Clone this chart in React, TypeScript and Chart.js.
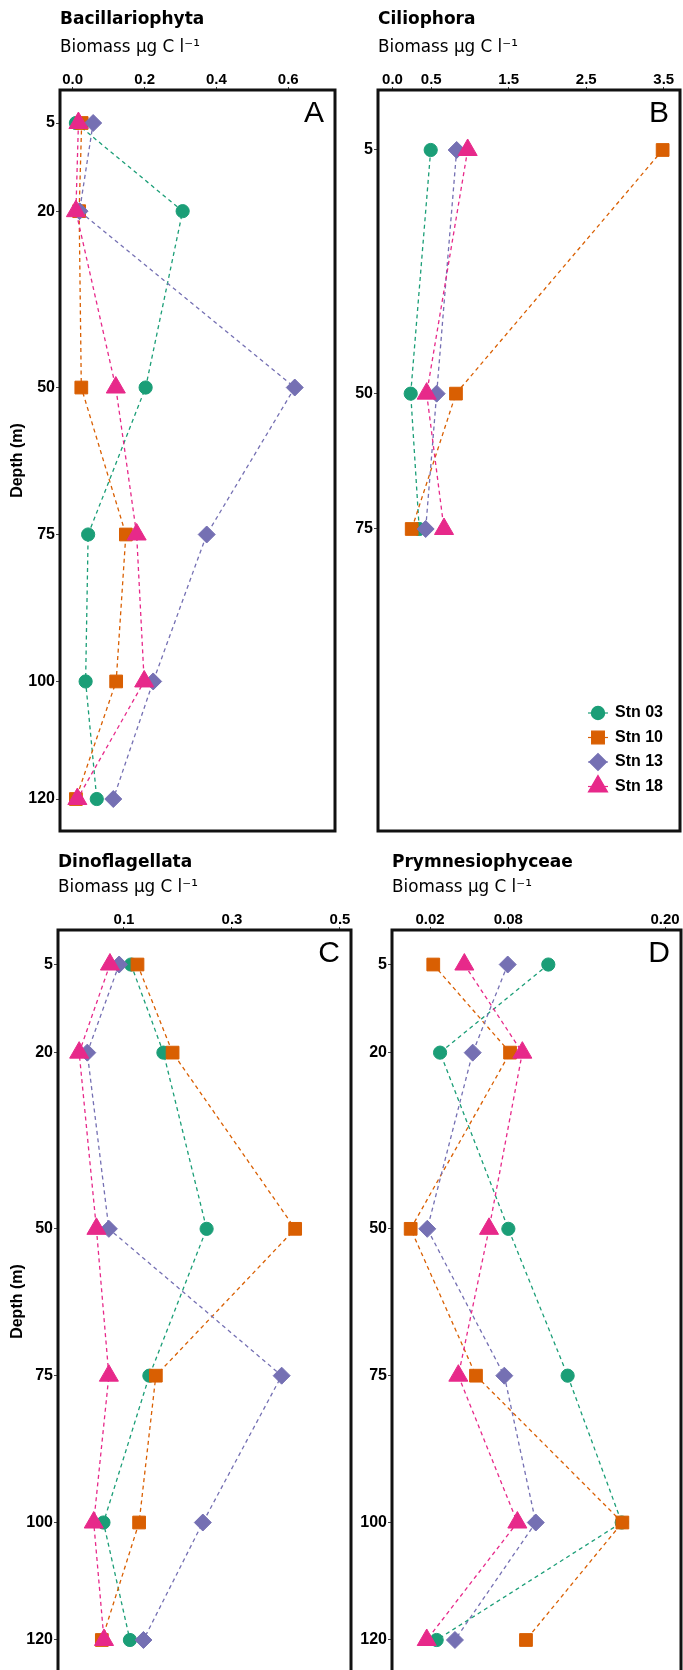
import React, { useEffect, useRef } from 'react';
import { Chart, registerables } from 'chart.js';
import { drawPoint } from 'chart.js/helpers';

Chart.register(...registerables);

// ---------------- data ----------------
const depths = [5, 20, 50, 75, 100, 120];
const ciliDepths = [5, 50, 75];
const depthTicks = [5, 20, 50, 75, 100, 120];
const ciliDepthTicks = [5, 50, 75];

const stations = ['Stn 03', 'Stn 10', 'Stn 13', 'Stn 18'];

// Bacillariophyta (A)
const baciStn03 = [0.009, 0.306, 0.203, 0.043, 0.036, 0.067];
const baciStn10 = [0.025, 0.018, 0.024, 0.148, 0.121, 0.009];
const baciStn13 = [0.057, 0.019, 0.618, 0.373, 0.224, 0.113];
const baciStn18 = [0.016, 0.009, 0.120, 0.178, 0.199, 0.013];
const baciTicks = [0.0, 0.2, 0.4, 0.6];
const baciTickLabels = ['0.0', '0.2', '0.4', '0.6'];

// Ciliophora (B)
const ciliStn03 = [0.493, 0.235, 0.345];
const ciliStn10 = [3.486, 0.819, 0.248];
const ciliStn13 = [0.828, 0.570, 0.428];
const ciliStn18 = [0.970, 0.441, 0.665];
const ciliTicks = [0.0, 0.5, 1.5, 2.5, 3.5];
const ciliTickLabels = ['0.0', '0.5', '1.5', '2.5', '3.5'];

// Dinoflagellata (C)
const dinoStn03 = [0.113, 0.173, 0.253, 0.147, 0.062, 0.111];
const dinoStn10 = [0.125, 0.190, 0.417, 0.159, 0.128, 0.059];
const dinoStn13 = [0.091, 0.032, 0.072, 0.392, 0.246, 0.136];
const dinoStn18 = [0.074, 0.017, 0.049, 0.072, 0.044, 0.063];
const dinoTicks = [0.1, 0.3, 0.5];
const dinoTickLabels = ['0.1', '0.3', '0.5'];

// Prymnesiophyceae (D)
const prymStn03 = [0.1106, 0.0277, 0.080, 0.1254, 0.1668, 0.0251];
const prymStn10 = [0.0225, 0.0813, 0.0052, 0.0552, 0.1673, 0.0935];
const prymStn13 = [0.0795, 0.0527, 0.0179, 0.0769, 0.101, 0.0391];
const prymStn18 = [0.0463, 0.0907, 0.0652, 0.0417, 0.0869, 0.0175];
const prymTicks = [0.02, 0.08, 0.2];
const prymTickLabels = ['0.02', '0.08', '0.20'];

// ---------------- styles ----------------
const SANS = "'Liberation Sans', Arial, Helvetica, sans-serif";
const TITLE_FAMILY = "'DejaVu Sans', 'Liberation Sans', sans-serif";
const COLORS = ['#1B9E77', '#D95F02', '#7570B3', '#E7298A'];
const SHAPES = ['circle', 'rect', 'rectRot', 'triangle'];
const RADII = [6.6, 9, 8.5, 11];
const TITLE_SIZE = 17;
const SUB_SIZE = 16.8;
const TOP_OFFSET = 90; // from canvas top to chart area top
const SUBTITLE = 'Biomass \u00B5g C l\u207B\u00B9';

Chart.defaults.font.family = SANS;
Chart.defaults.color = '#000';

type Panel = {
  title: string;
  letter: string;
  depths: number[];
  series: number[][];
  xTicks: number[];
  xLabels: string[];
  xMin: number;
  xMax: number;
  yMin: number;
  yMax: number;
  yTicks: number[];
  depthTitle: boolean;
  legend: boolean;
  area: { left: number; top: number; right: number; bottom: number };
  yAxisWidth: number;
  padRight: number;
  titlePad: number;
  subPad: number;
};

const panels: Panel[] = [
  {
    title: 'Bacillariophyta', letter: 'A', depths,
    series: [baciStn03, baciStn10, baciStn13, baciStn18],
    xTicks: baciTicks, xLabels: baciTickLabels, xMin: -0.0353, xMax: 0.73,
    yMin: -0.614, yMax: 125.44, yTicks: depthTicks, depthTitle: true, legend: false,
    area: { left: 60, top: 90, right: 335, bottom: 831 }, yAxisWidth: 60, padRight: 6,
    titlePad: 8.9, subPad: 8.1,
  },
  {
    title: 'Ciliophora', letter: 'B', depths: ciliDepths,
    series: [ciliStn03, ciliStn10, ciliStn13, ciliStn18],
    xTicks: ciliTicks, xLabels: ciliTickLabels, xMin: -0.187, xMax: 3.71,
    yMin: -6.08, yMax: 130.78, yTicks: ciliDepthTicks, depthTitle: false, legend: true,
    area: { left: 378, top: 90, right: 680, bottom: 831 }, yAxisWidth: 60, padRight: 3,
    titlePad: 8.9, subPad: 8.1,
  },
  {
    title: 'Dinoflagellata', letter: 'C', depths,
    series: [dinoStn03, dinoStn10, dinoStn13, dinoStn18],
    xTicks: dinoTicks, xLabels: dinoTickLabels, xMin: -0.0222, xMax: 0.5204,
    yMin: -0.878, yMax: 125.62, yTicks: depthTicks, depthTitle: true, legend: false,
    area: { left: 58, top: 930, right: 351, bottom: 1673 }, yAxisWidth: 58, padRight: 6,
    titlePad: 12.7, subPad: 4.3,
  },
  {
    title: 'Prymnesiophyceae', letter: 'D', depths,
    series: [prymStn03, prymStn10, prymStn13, prymStn18],
    xTicks: prymTicks, xLabels: prymTickLabels, xMin: -0.0091, xMax: 0.2122,
    yMin: -0.878, yMax: 125.62, yTicks: depthTicks, depthTitle: false, legend: false,
    area: { left: 392, top: 930, right: 681, bottom: 1673 }, yAxisWidth: 60, padRight: 2,
    titlePad: 12.7, subPad: 4.3,
  },
];

const framePlugin = {
  id: 'frame',
  afterDraw(chart: any, _args: any, opts: any) {
    const { ctx, chartArea: a } = chart;
    ctx.save();
    ctx.lineWidth = 3;
    ctx.strokeStyle = '#111';
    ctx.strokeRect(a.left, a.top, a.right - a.left, a.bottom - a.top);
    ctx.fillStyle = '#000';
    ctx.font = `30px ${SANS}`;
    ctx.textAlign = 'right';
    ctx.textBaseline = 'alphabetic';
    ctx.fillText(opts.letter, a.right - 11, a.top + 32);
    if (opts.legend) {
      const mx = a.right - 82;
      const tx = a.right - 65;
      stations.forEach((name, i) => {
        const y = a.bottom - 118 + i * 24.5;
        ctx.strokeStyle = COLORS[i];
        ctx.fillStyle = COLORS[i];
        ctx.lineWidth = 1.2;
        ctx.setLineDash([]);
        ctx.beginPath();
        ctx.moveTo(mx - 10, y);
        ctx.lineTo(mx + 10, y);
        ctx.stroke();
        drawPoint(ctx, { pointStyle: SHAPES[i], radius: RADII[i], borderWidth: 1, rotation: 0 } as any, mx, y);
        ctx.fillStyle = '#000';
        ctx.font = `bold 16px ${SANS}`;
        ctx.textAlign = 'left';
        ctx.textBaseline = 'middle';
        ctx.fillText(name, tx, y);
      });
    }
    ctx.restore();
  },
};

function PanelChart({ cfg }: { cfg: Panel }) {
  const ref = useRef<HTMLCanvasElement | null>(null);
  const canvasLeft = cfg.area.left - cfg.yAxisWidth;
  const canvasTop = cfg.area.top - TOP_OFFSET;
  const width = cfg.area.right + cfg.padRight - canvasLeft;
  const height = cfg.area.bottom + 6 - canvasTop;
  const xAxisHeight =
    TOP_OFFSET - (cfg.titlePad + TITLE_SIZE * 1.2 + cfg.subPad + SUB_SIZE * 1.2);

  useEffect(() => {
    if (!ref.current) return;
    const datasets = stations.map((name, i) => ({
      label: name,
      data: cfg.depths.map((d, j) => ({ x: cfg.series[i][j], y: d })),
      showLine: true,
      borderColor: COLORS[i],
      backgroundColor: COLORS[i],
      borderWidth: 1.3,
      borderDash: [4, 3.5],
      pointStyle: SHAPES[i],
      pointRadius: RADII[i],
      pointHoverRadius: RADII[i],
      pointBackgroundColor: COLORS[i],
      pointBorderColor: COLORS[i],
      pointBorderWidth: 1,
      order: 4 - i,
    }));
    const chart = new Chart(ref.current, {
      type: 'scatter',
      data: { datasets },
      plugins: [framePlugin],
      options: {
        animation: false,
        responsive: false,
        maintainAspectRatio: false,
        events: [],
        layout: {
          autoPadding: false,
          padding: { left: 0, top: 0, right: cfg.padRight, bottom: 6 },
        },
        scales: {
          x: {
            type: 'linear',
            position: 'top',
            min: cfg.xMin,
            max: cfg.xMax,
            afterBuildTicks: (scale: any) => {
              scale.ticks = cfg.xTicks.map((v) => ({ value: v }));
            },
            afterFit: (scale: any) => {
              scale.height = xAxisHeight;
              scale.paddingLeft = 0;
              scale.paddingRight = 0;
              scale.paddingTop = 0;
              scale.paddingBottom = 0;
            },
            ticks: {
              autoSkip: false,
              maxRotation: 0,
              padding: 0,
              color: '#000',
              font: { size: 15, weight: 'bold', lineHeight: 1 },
              callback: (_v: any, idx: number) => cfg.xLabels[idx],
            },
            grid: {
              display: true,
              drawOnChartArea: false,
              drawTicks: true,
              tickLength: 3,
              color: '#444',
              lineWidth: 1,
            },
            border: { display: false },
          },
          y: {
            type: 'linear',
            reverse: true,
            min: cfg.yMin,
            max: cfg.yMax,
            afterBuildTicks: (scale: any) => {
              scale.ticks = cfg.yTicks.map((v) => ({ value: v }));
            },
            afterFit: (scale: any) => {
              scale.width = cfg.yAxisWidth;
              scale.paddingLeft = 0;
              scale.paddingRight = 0;
              scale.paddingTop = 0;
              scale.paddingBottom = 0;
            },
            ticks: {
              autoSkip: false,
              padding: 1,
              color: '#000',
              font: { size: 16, weight: 'bold' },
              callback: (v: any) => String(v),
            },
            grid: {
              display: true,
              drawOnChartArea: false,
              drawTicks: true,
              tickLength: 4,
              color: '#444',
              lineWidth: 1,
            },
            border: { display: false },
            title: {
              display: cfg.depthTitle,
              text: 'Depth (m)',
              color: '#000',
              font: { size: 16, weight: 'bold' },
              padding: { top: 8.4, bottom: 0 },
            },
          },
        },
        plugins: {
          legend: { display: false },
          tooltip: { enabled: false },
          title: {
            display: true,
            text: cfg.title,
            align: 'start',
            fullSize: false,
            color: '#000',
            font: { family: TITLE_FAMILY, size: TITLE_SIZE, weight: 'bold', lineHeight: 1.2 },
            padding: { top: cfg.titlePad, bottom: 0 },
          },
          subtitle: {
            display: true,
            text: SUBTITLE,
            align: 'start',
            fullSize: false,
            color: '#000',
            font: { family: TITLE_FAMILY, size: SUB_SIZE, weight: 'normal', lineHeight: 1.2 },
            padding: { top: cfg.subPad, bottom: 0 },
          },
          frame: { letter: cfg.letter, legend: cfg.legend },
        } as any,
      } as any,
    });
    return () => chart.destroy();
  }, []);

  return (
    <canvas
      ref={ref}
      width={width}
      height={height}
      style={{ position: 'absolute', left: canvasLeft, top: canvasTop, width, height }}
    />
  );
}

export default function App() {
  return (
    <div
      style={{
        position: 'absolute',
        left: 0,
        top: 0,
        width: 683,
        height: 1670,
        overflow: 'hidden',
        background: '#fff',
      }}
    >
      {panels.map((p) => (
        <PanelChart key={p.letter} cfg={p} />
      ))}
    </div>
  );
}
